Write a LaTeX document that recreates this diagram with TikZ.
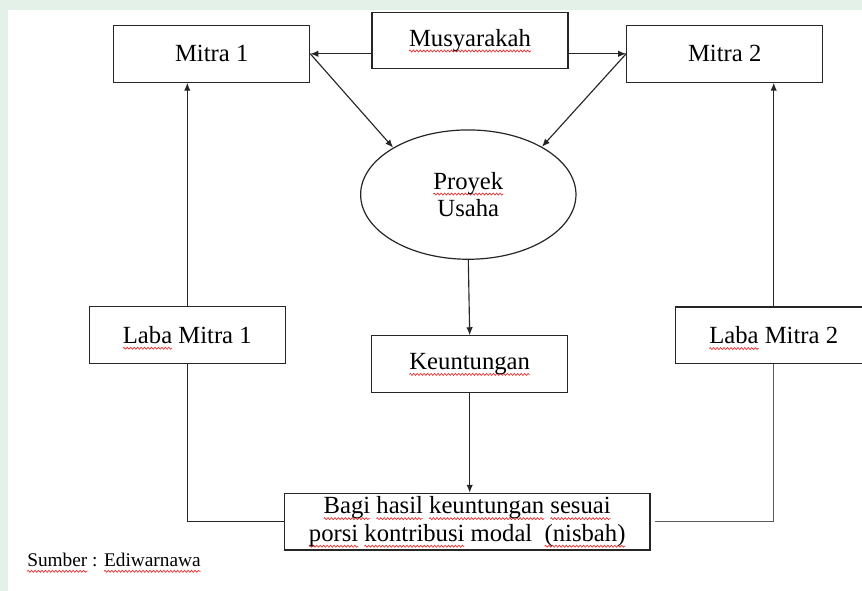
\documentclass[tikz,border=0pt]{standalone}
\usepackage{fontspec}
\setmainfont{Liberation Serif}
\usepackage{tikz}
\usetikzlibrary{arrows.meta,positioning,calc,shapes.geometric,decorations.pathmorphing}
\usepackage{xcolor}
\definecolor{pagegreen}{RGB}{228,241,233}
\definecolor{inkline}{RGB}{38,38,38}
\definecolor{softline}{RGB}{90,90,90}
\definecolor{spellred}{RGB}{235,40,40}
\newsavebox{\wvbox}
\newlength{\wvlen}
\newcommand{\wv}[1]{\sbox{\wvbox}{#1}\setlength{\wvlen}{\wd\wvbox}%
  \tikz[overlay,baseline=0pt,x=1pt,y=1pt]{%
    \draw[spellred,fill=none,line width=0.5pt,decorate,decoration={zigzag,segment length=2.6pt,amplitude=0.75pt}]
      (0pt,-3.6pt) -- (\wvlen,-3.6pt);}%
  \usebox{\wvbox}}

\begin{document}
\begin{tikzpicture}[x=0.75pt,y=-0.75pt,>={Latex[length=6pt,width=4.8pt]},
    box/.style={draw=inkline,line width=0.9pt,fill=white,minimum width=147pt,minimum height=42.5pt,
      inner sep=2pt,font=\fontsize{18.5}{20.7}\selectfont,align=center},
    proj/.style={draw=inkline,line width=0.9pt,fill=white,ellipse,minimum width=161.5pt,minimum height=97pt,
      inner sep=0pt,font=\fontsize{18.5}{20.7}\selectfont,align=center},
    link/.style={->,line width=0.85pt,inkline},
    plain/.style={line width=0.85pt,inkline}]
  \useasboundingbox (0,0) rectangle (862,591);
  \clip (0,0) rectangle (862,591);
  \fill[pagegreen] (0,0) rectangle (862,591);
  \fill[white] (8,10) rectangle (862,591);

  \node[box,minimum height=42pt] (musy) at (470,40.3) {\wv{Musyarakah}};
  \node[box] (mitra1) at (211.7,53.8) {Mitra 1};
  \node[box] (mitra2) at (724.7,53.8) {Mitra 2};
  \node[proj] (proyek) at (468.3,194.6) {\wv{Proyek}\\Usaha};
  \node[box] (keunt) at (469.7,364.2) {\wv{Keuntungan}};
  \node[box] (laba1) at (187.3,335) {\wv{Laba} Mitra 1};
  \node[box] (laba2) at (773.7,335.3) {\wv{Laba} Mitra 2};
  \node[box,minimum width=274.3pt] (bagi) at (467.2,521.7)
    {\wv{Bagi} \wv{hasil} \wv{keuntungan} \wv{sesuai}\\\wv{porsi} \wv{kontribusi} modal\ \ \wv{(nisbah)}};
  \node[anchor=base west,inner sep=0pt,font=\fontsize{14.5}{17}\selectfont] (sumber) at (27,566.5)
    {\wv{Sumber} : \wv{Ediwarnawa}};

  \draw[link] (musy.west |- mitra1.east) -- (mitra1.east);
  \draw[link] (musy.east |- mitra2.west) -- (mitra2.west);
  \draw[link] (mitra1.east) -- (proyek.148);
  \draw[link] (mitra2.west) -- (proyek.33);
  \draw[link] (proyek.south) -- (keunt.north);
  \draw[link] (keunt.south) -- (bagi.north -| keunt.south);
  \draw[link] (laba1.north) -- (mitra1.south -| laba1.north);
  \draw[link] (laba2.north) -- (mitra2.south -| laba2.north);
  \draw[plain] (laba1.south) |- (bagi.west);
  \draw[plain,softline,shorten >=3.5pt] (laba2.south) |- (bagi.east);
\end{tikzpicture}
\end{document}
